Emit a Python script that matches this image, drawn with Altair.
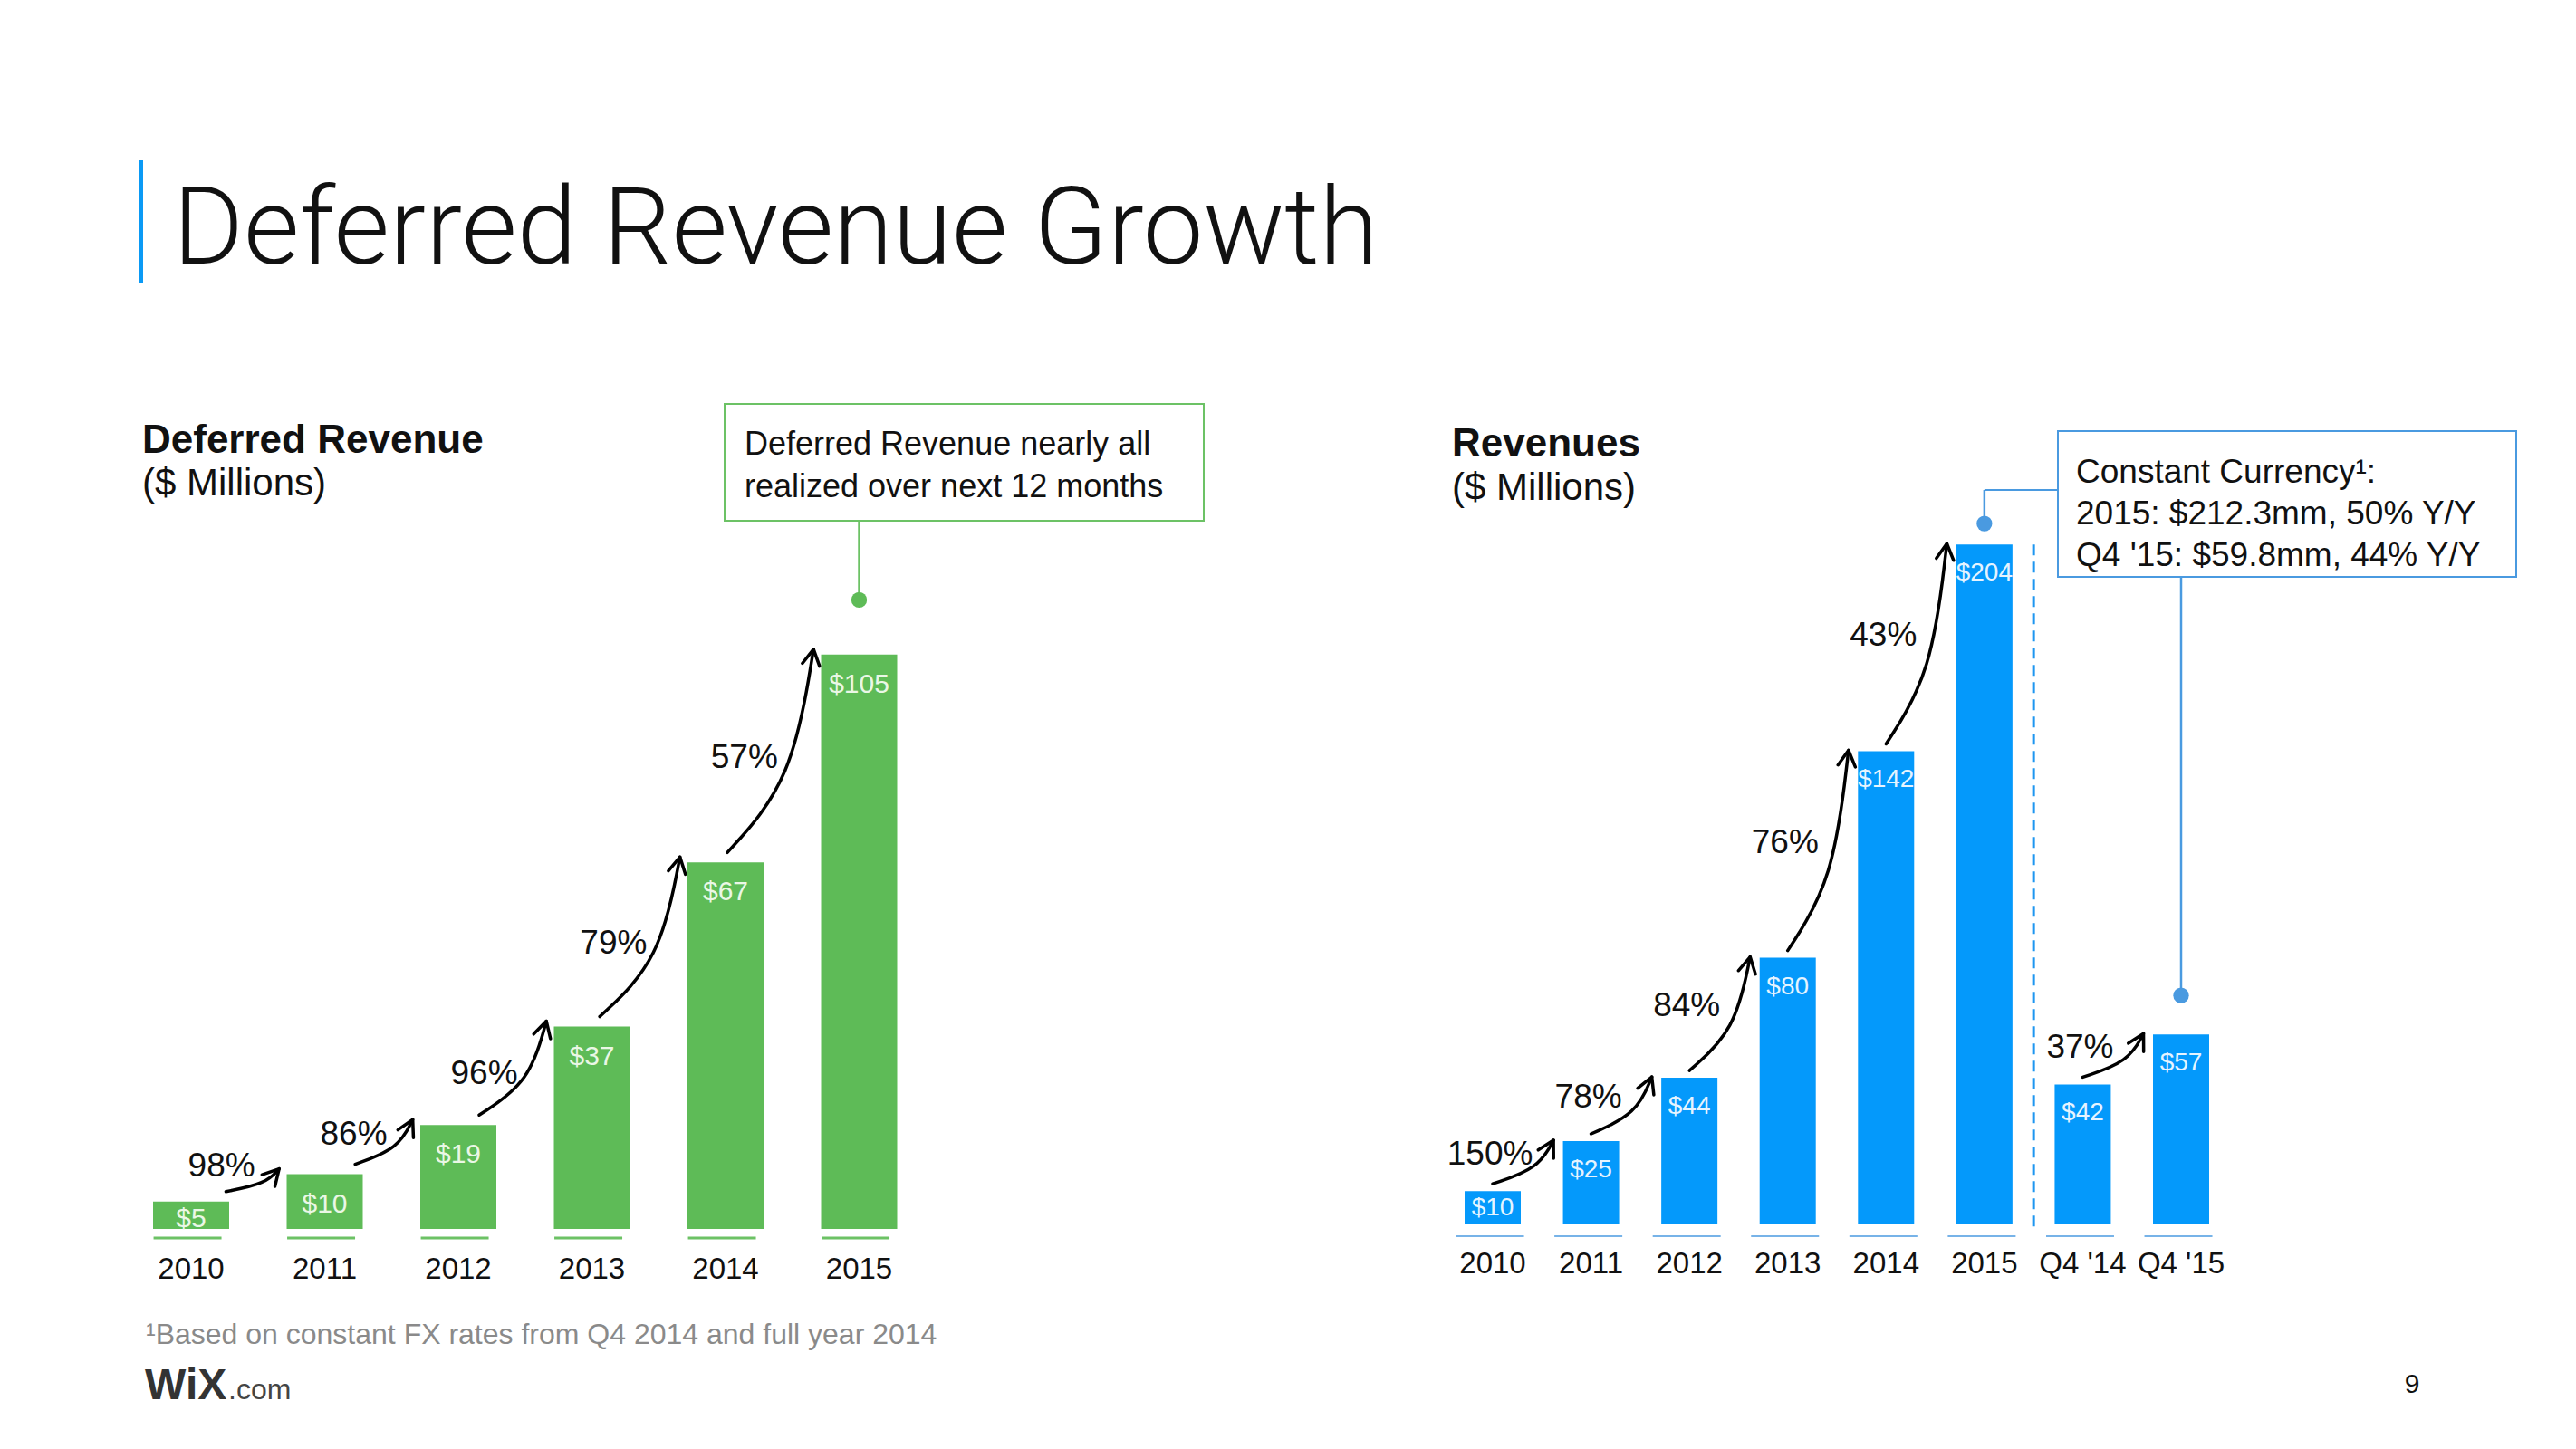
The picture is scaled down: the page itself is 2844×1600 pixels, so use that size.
import math
import altair as alt
import pandas as pd

# ------------------------------------------------------------------ data
DR_YEARS = ["2010", "2011", "2012", "2013", "2014", "2015"]
DR_VALUES = [5, 10, 19, 37, 67, 105]
DR_GROWTH = ["98%", "86%", "96%", "79%", "57%"]

REV_PERIODS = ["2010", "2011", "2012", "2013", "2014", "2015", "Q4 '14", "Q4 '15"]
REV_VALUES = [10, 25, 44, 80, 142, 204, 42, 57]
REV_GROWTH_FROM = [0, 1, 2, 3, 4, 6]
REV_GROWTH = ["150%", "78%", "84%", "76%", "43%", "37%"]

TITLE = "Deferred Revenue Growth"
LEFT_TITLE = "Deferred Revenue"
RIGHT_TITLE = "Revenues"
UNITS = "($ Millions)"
LEFT_NOTE = ["Deferred Revenue nearly all", "realized over next 12 months"]
RIGHT_NOTE = ["Constant Currency\u00b9:", "2015: $212.3mm, 50% Y/Y", "Q4 '15: $59.8mm, 44% Y/Y"]
FOOTNOTE = "\u00b9Based on constant FX rates from Q4 2014 and full year 2014"
PAGE = "9"

# ------------------------------------------------------------------ style / layout
W, H = 2828, 1584
M = 8
BODY = "Liberation Sans, Helvetica Neue, Arial, sans-serif"
LIGHT = "Roboto Light, Roboto, Liberation Sans, sans-serif"
GREEN = "#5EBB57"
GREEN_LINE = "#6CC265"
BLUE = "#0499FB"
BLUE_LINE = "#4A9AE0"
INK = "#111111"
CHEV = "M-0.55,1L0,0L0.55,1"


def px(v):
    return v - M


# scale geometry (page pixels)
L_PPU, L_BASE, L_STEP, L_X0 = 6.04, 1357, 149.5, 206
R_PPU, R_BASE, R_STEP, R_X0 = 3.68, 1352, 110.0, 1643

LX = alt.Scale(domain=[0, 5], range=[px(L_X0), px(L_X0) + 5 * L_STEP], nice=False, zero=False)
LY = alt.Scale(domain=[0, 110], range=[px(L_BASE), px(L_BASE) - 110 * L_PPU], nice=False, zero=False)
RX = alt.Scale(domain=[0, 7], range=[px(R_X0), px(R_X0) + 7 * R_STEP], nice=False, zero=False)
RY = alt.Scale(domain=[0, 220], range=[px(R_BASE), px(R_BASE) - 220 * R_PPU], nice=False, zero=False)


def arrow_frames(values, froms, labels, ppu, step, start_fn, tip_dx, tip_dy, label_fn):
    lines, heads, labs = [], [], []
    for k, (i, lab) in enumerate(zip(froms, labels)):
        v0, v1 = values[i], values[i + 1]
        dpx = (v1 - v0) * ppu
        sx, sy = start_fn(dpx)
        x0, y0 = i + sx / step, v0 + sy / ppu
        x2, y2 = i + 1 + tip_dx / step, v1 + tip_dy / ppu
        x1, y1 = x0 + 0.75 * (x2 - x0), y0 + 0.35 * (y2 - y0)
        for o, (x, y) in enumerate([(x0, y0), (x1, y1), (x2, y2)]):
            lines.append({"arrow": k, "o": o, "x": x, "y": y})
        ang = math.degrees(math.atan2(0.25 * (x2 - x0) * step, 0.65 * (y2 - y0) * ppu)) % 360
        heads.append({"x": x2, "y": y2, "ang": ang})
        lx, ly = label_fn(i, v0, v1, dpx)
        labs.append({"x": lx, "y": ly, "t": lab})
    return pd.DataFrame(lines), pd.DataFrame(heads), pd.DataFrame(labs)


def panel(names, values, froms, growth, xs, ys, ppu, step, bar_w, color, val_color,
          val_size, val_gap, val_min, ul_left, ul_right, ul_y, ul_sw, ul_color, year_base,
          start_fn, tip_dx, tip_dy, label_fn):
    df = pd.DataFrame({"idx": list(range(len(values))), "value": values, "name": names})
    df["label"] = ["$" + str(v) for v in values]
    df["ly"] = [max(v - val_gap / ppu, val_min / ppu) for v in values]
    df["ul0"] = df["idx"] + ul_left / step
    df["ul1"] = df["idx"] + ul_right / step

    X = lambda f: alt.X(f, type="quantitative", scale=xs, axis=None)
    Y = lambda f: alt.Y(f, type="quantitative", scale=ys, axis=None)

    base = alt.Chart(df)
    bars = base.mark_bar(size=bar_w, color=color, orient="vertical").encode(x=X("idx"), y=Y("value"))
    ul = base.mark_rule(color=ul_color, strokeWidth=ul_sw).encode(
        x=X("ul0"), x2="ul1", y=alt.value(px(ul_y)))
    years = base.mark_text(fontSize=33, font=BODY, color=INK, baseline="alphabetic", align="center").encode(
        x=X("idx"), y=alt.value(px(year_base)), text="name:N")
    vals = base.mark_text(fontSize=val_size, font=BODY, color=val_color, baseline="alphabetic", align="center").encode(
        x=X("idx"), y=Y("ly"), text="label:N")

    ldf, hdf, gdf = arrow_frames(values, froms, growth, ppu, step, start_fn, tip_dx, tip_dy, label_fn)
    lines = alt.Chart(ldf).mark_line(interpolate="basis", color="black", strokeWidth=3.5, strokeCap="round").encode(
        x=X("x"), y=Y("y"), detail="arrow:N", order="o:Q")
    heads = alt.Chart(hdf).mark_point(shape=CHEV, filled=False, size=1225, strokeWidth=3.5, color="black",
                                      opacity=1, strokeCap="round", strokeJoin="round").encode(
        x=X("x"), y=Y("y"), angle=alt.Angle("ang:Q", scale=None))
    glabs = alt.Chart(gdf).mark_text(fontSize=37, font=BODY, color=INK, baseline="alphabetic", align="center").encode(
        x=X("x"), y=Y("y"), text="t:N")
    return [bars, ul, years, vals, lines, heads, glabs], X, Y


# ---------------- left panel
left_layers, LXf, LYf = panel(
    DR_YEARS, DR_VALUES, list(range(5)), DR_GROWTH, LX, LY, L_PPU, L_STEP, 84, GREEN, "#EAF7E6",
    30, 42, 2, -42, 34, 1367, 3, GREEN_LINE, 1412,
    start_fn=lambda d: (max(2, 45 - 0.2 * d), 11), tip_dx=-51, tip_dy=6,
    label_fn=lambda i, v0, v1, d: (i + (36 - 0.065 * d) / L_STEP,
                                   (v0 + v1) / 2 + (max(3, 34 - 0.28 * d) - 13) / L_PPU))

ldot = pd.DataFrame({"x": [5], "y": [DR_VALUES[5] + 10]})
left_layers += [
    alt.Chart(ldot).mark_rule(color=GREEN_LINE, strokeWidth=2.5).encode(
        x=LXf("x"), y=LYf("y"), y2=alt.value(px(575))),
    alt.Chart(ldot).mark_circle(size=300, color=GREEN, opacity=1).encode(x=LXf("x"), y=LYf("y")),
]
left_panel = alt.layer(*left_layers)

# ---------------- right panel
right_layers, RXf, RYf = panel(
    REV_PERIODS, REV_VALUES, REV_GROWTH_FROM, REV_GROWTH, RX, RY, R_PPU, R_STEP, 62, BLUE, "#E6F4FF",
    28, 40, 10, -41, 35, 1365, 1.6, BLUE_LINE, 1406,
    start_fn=lambda d: (0, 8), tip_dx=-42, tip_dy=1,
    label_fn=lambda i, v0, v1, d: (i - 3 / R_STEP, (v0 + v1) / 2 + 2 / R_PPU))

sep = pd.DataFrame({"x": [5.5], "y": [REV_VALUES[5]]})
rdot1 = pd.DataFrame({"x": [5], "y": [REV_VALUES[5] + 6.3]})
rdot2 = pd.DataFrame({"x": [7], "y": [REV_VALUES[7] + 11.7]})
right_layers += [
    alt.Chart(sep).mark_rule(color="#1E96F0", strokeWidth=3, strokeDash=[12, 7]).encode(
        x=RXf("x"), y=RYf("y"), y2=alt.value(px(1357))),
    alt.Chart(rdot1).mark_rule(color=BLUE_LINE, strokeWidth=2.5).encode(
        x=RXf("x"), y=RYf("y"), y2=alt.value(px(541))),
    alt.Chart(rdot1).mark_rule(color=BLUE_LINE, strokeWidth=2).encode(
        x=RXf("x"), x2=alt.value(px(2272)), y=alt.value(px(541))),
    alt.Chart(rdot1).mark_circle(size=300, color=BLUE_LINE, opacity=1).encode(x=RXf("x"), y=RYf("y")),
    alt.Chart(rdot2).mark_rule(color=BLUE_LINE, strokeWidth=2.5).encode(
        x=RXf("x"), y=RYf("y"), y2=alt.value(px(637))),
    alt.Chart(rdot2).mark_circle(size=300, color=BLUE_LINE, opacity=1).encode(x=RXf("x"), y=RYf("y")),
]
right_panel = alt.layer(*right_layers)

# ---------------- page furniture
one = pd.DataFrame({"k": [0]})


def text(t, x, y, size, weight="normal", color=INK, font=BODY, align="left"):
    return alt.Chart(pd.DataFrame({"t": [t]})).mark_text(
        align=align, baseline="alphabetic", fontSize=size, fontWeight=weight, font=font, color=color
    ).encode(x=alt.value(px(x)), y=alt.value(px(y)), text="t:N")


def box(x0, x1, y0, y1, stroke):
    return alt.Chart(one).mark_rect(fill="white", stroke=stroke, strokeWidth=2).encode(
        x=alt.value(px(x0)), x2=alt.value(px(x1)), y=alt.value(px(y0)), y2=alt.value(px(y1)))


furniture = [
    alt.Chart(one).mark_rule(color="#0A9AF5", strokeWidth=5).encode(
        x=alt.value(px(155.5)), y=alt.value(px(177)), y2=alt.value(px(313))),
    text(TITLE, 191, 291, 119, weight=300, font=LIGHT),
    text(LEFT_TITLE, 157, 500, 44, weight="bold"),
    text(UNITS, 157, 547, 42),
    text(RIGHT_TITLE, 1603, 504, 44, weight="bold"),
    text(UNITS, 1603, 552, 42),
    box(800, 1329, 446, 575, GREEN_LINE),
    text(LEFT_NOTE[0], 822, 502, 36),
    text(LEFT_NOTE[1], 822, 549, 36),
    box(2272, 2778, 476, 637, BLUE_LINE),
    text(RIGHT_NOTE[0], 2292, 533, 37),
    text(RIGHT_NOTE[1], 2292, 579, 37),
    text(RIGHT_NOTE[2], 2292, 625, 37),
    text(FOOTNOTE, 161, 1484, 32, color="#8A8A8A"),
    text("WiX", 160, 1545, 48, weight="bold", color="#333333"),
    text(".com", 252, 1545, 32, color="#444444"),
    text(PAGE, 2663, 1538, 30, align="center"),
]

chart = alt.layer(left_panel, right_panel, *furniture).resolve_scale(
    x="independent", y="independent"
).properties(
    width=W, height=H, autosize=alt.AutoSizeParams(type="none"),
    padding={"left": 0, "top": 0, "right": 0, "bottom": 0}, background="white",
).configure_view(stroke=None)

chart.save("out.html", embed_options={"renderer": "svg", "actions": False})
